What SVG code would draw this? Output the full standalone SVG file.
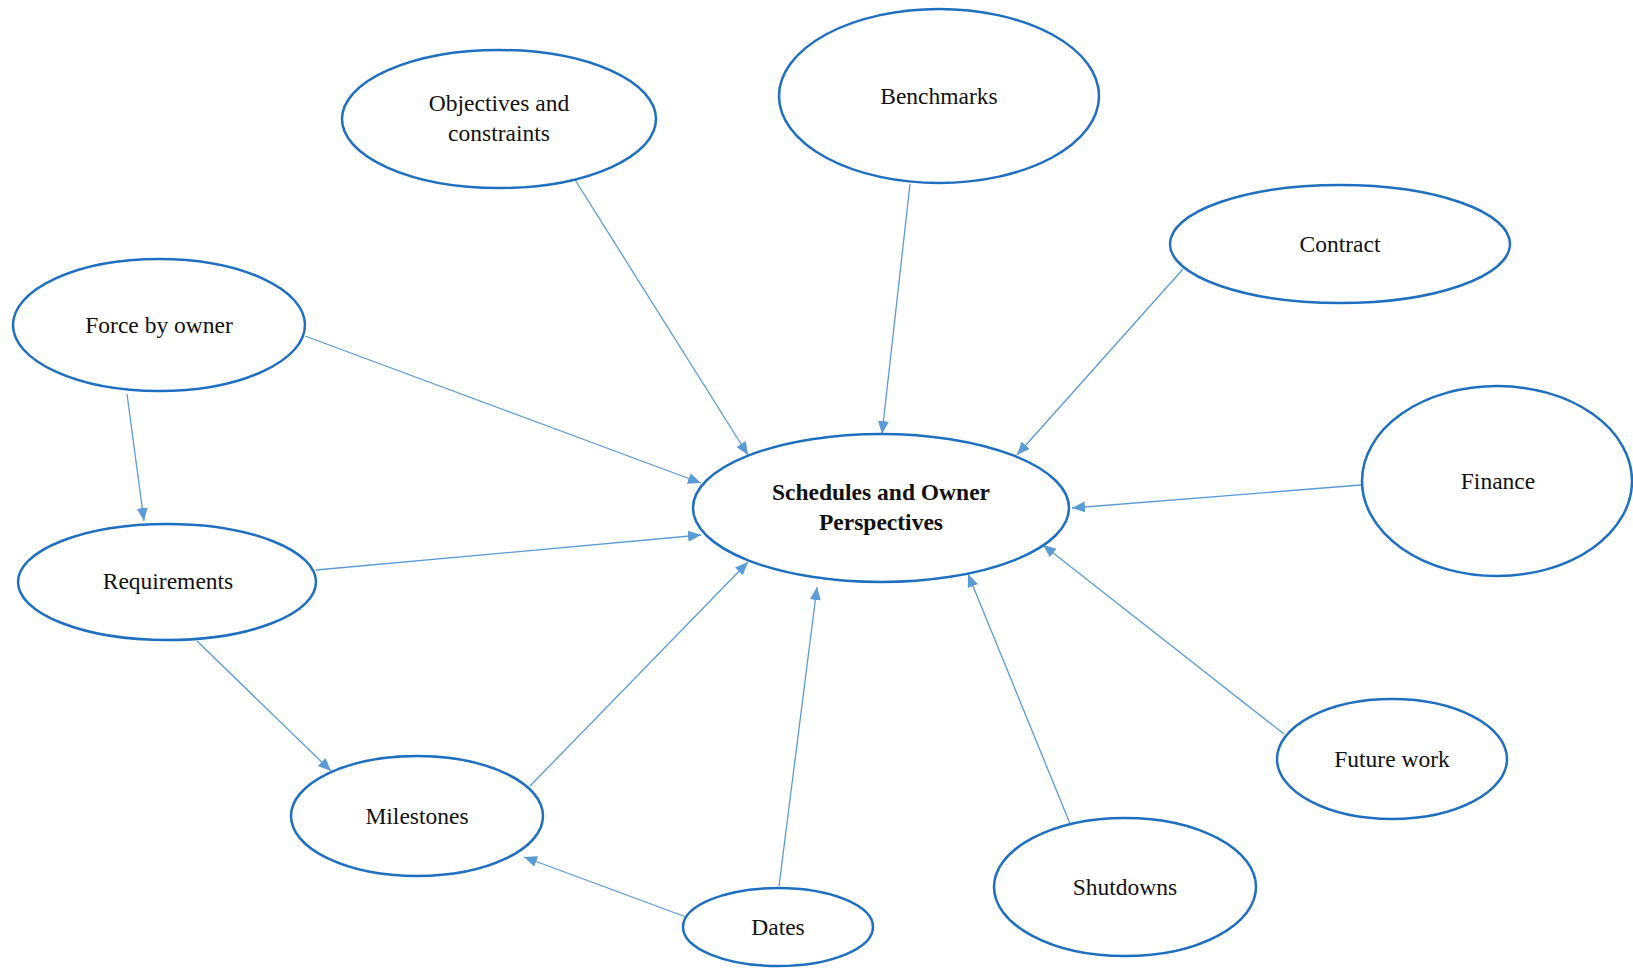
<svg xmlns="http://www.w3.org/2000/svg" width="1633" height="968" viewBox="0 0 1633 968">
<style>
.node ellipse{fill:#ffffff;stroke:#1f6fc0;stroke-width:2.5}
.node text{font-family:"Liberation Serif","Times New Roman",serif;font-size:23.5px;fill:#111;text-anchor:middle}
.node text.b{font-weight:bold}
#connectors line{stroke:#5b9bd5;stroke-width:1.3;fill:none;marker-end:url(#arr)}
</style>
<defs>
<marker id="arr" markerUnits="userSpaceOnUse" markerWidth="14" markerHeight="12" refX="13" refY="5.5" orient="auto">
<path d="M0,0 L13,5.5 L0,11 z" fill="#5b9bd5"/>
</marker>
</defs>
<rect width="1633" height="968" fill="#ffffff"/>
<g id="connectors">
<line x1="572" y1="175" x2="748" y2="455"/>
<line x1="910" y1="184" x2="882" y2="434"/>
<line x1="1183" y1="269" x2="1017" y2="455"/>
<line x1="305" y1="336" x2="701" y2="483"/>
<line x1="127" y1="394" x2="144" y2="521"/>
<line x1="1361" y1="485" x2="1072" y2="508"/>
<line x1="316" y1="570" x2="701" y2="535"/>
<line x1="197" y1="641" x2="331" y2="771"/>
<line x1="530" y1="786" x2="748" y2="562"/>
<line x1="779" y1="886" x2="817" y2="587"/>
<line x1="686" y1="917" x2="524" y2="857"/>
<line x1="1071" y1="826" x2="968" y2="574"/>
<line x1="1284" y1="734" x2="1043" y2="545"/>
</g>
<g id="objectives" class="node"><ellipse cx="499" cy="119" rx="157" ry="69"/><text x="499" y="111">Objectives and</text><text x="499" y="141">constraints</text></g>
<g id="benchmarks" class="node"><ellipse cx="939" cy="96" rx="160" ry="87"/><text x="939" y="104">Benchmarks</text></g>
<g id="contract" class="node"><ellipse cx="1340" cy="244" rx="170" ry="59"/><text x="1340" y="252">Contract</text></g>
<g id="force" class="node"><ellipse cx="159" cy="325" rx="146" ry="66"/><text x="159" y="333">Force by owner</text></g>
<g id="finance" class="node"><ellipse cx="1497" cy="481" rx="135" ry="95"/><text x="1498" y="489">Finance</text></g>
<g id="center" class="node"><ellipse cx="881" cy="508" rx="188" ry="74"/><text class="b" x="881" y="500">Schedules and Owner</text><text class="b" x="881" y="530">Perspectives</text></g>
<g id="requirements" class="node"><ellipse cx="167" cy="582" rx="149" ry="58"/><text x="168" y="589">Requirements</text></g>
<g id="milestones" class="node"><ellipse cx="417" cy="816" rx="126" ry="60"/><text x="417" y="824">Milestones</text></g>
<g id="dates" class="node"><ellipse cx="778" cy="927" rx="95" ry="39"/><text x="778" y="935">Dates</text></g>
<g id="shutdowns" class="node"><ellipse cx="1125" cy="887" rx="131" ry="69"/><text x="1125" y="895">Shutdowns</text></g>
<g id="future" class="node"><ellipse cx="1392" cy="759" rx="115" ry="60"/><text x="1392" y="767">Future work</text></g>
</svg>
